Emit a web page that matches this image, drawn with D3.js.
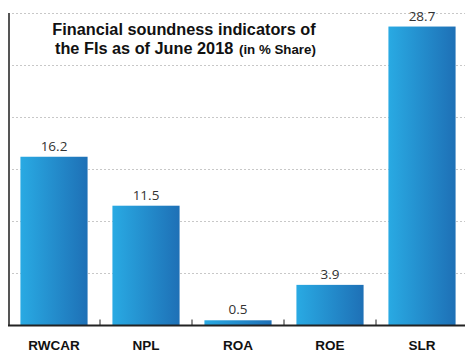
<!DOCTYPE html>
<html><head><meta charset="utf-8">
<script src="https://cdn.jsdelivr.net/npm/d3@7"></script>
<style>html,body{margin:0;padding:0;background:#fff}svg{display:block}</style>
</head><body>
<svg id="c" width="465" height="352"></svg>
<script>
const categories = ["RWCAR", "NPL", "ROA", "ROE", "SLR"];
const values = [16.2, 11.5, 0.5, 3.9, 28.7];
const yTicks = [0, 5, 10, 15, 20, 25, 30];

const svg = d3.select("#c");
const m = {left: 8, right: -3, top: 13, bottom: 26.5};
const W = 465, H = 352;
const x = d3.scaleBand().domain(categories).range([m.left, W - m.right]).paddingInner(0.27).paddingOuter(0.135);
const y = d3.scaleLinear().domain([0, 30]).range([H - m.bottom, m.top]);

const defs = svg.append("defs");
const g = defs.append("linearGradient").attr("id", "bg").attr("x1", "0%").attr("x2", "100%").attr("y1", "0%").attr("y2", "0%");
g.append("stop").attr("offset", "0%").attr("stop-color", "#29aae3");
g.append("stop").attr("offset", "100%").attr("stop-color", "#1e70b6");

// gridlines
svg.append("g").selectAll("line").data(yTicks.filter(d => d > 0)).join("line")
  .attr("x1", m.left).attr("x2", W).attr("y1", d => Math.round(y(d)) + 0.5).attr("y2", d => Math.round(y(d)) + 0.5)
  .attr("stroke", "#c8c8c8").attr("stroke-width", 1).attr("stroke-dasharray", "2,2");

// bars
svg.append("g").selectAll("rect").data(values).join("rect")
  .attr("x", (d, i) => x(categories[i])).attr("width", x.bandwidth())
  .attr("y", d => y(d)).attr("height", d => y(0) - y(d))
  .attr("fill", "url(#bg)");

// value labels
svg.append("g").selectAll("text").data(values).join("text")
  .attr("x", (d, i) => x(categories[i]) + x.bandwidth() / 2)
  .attr("y", d => y(d) - 6)
  .attr("text-anchor", "middle")
  .attr("font-family", "Open Sans, sans-serif").attr("font-size", 13.5).attr("fill", "#333")
  .text(d => d.toFixed(1));

// left axis line
svg.append("line").attr("x1", m.left + 1).attr("x2", m.left + 1).attr("y1", y(30)).attr("y2", y(0))
  .attr("stroke", "#555").attr("stroke-width", 2);

// x axis with inward ticks at band boundaries
const step = x.step();
const bounds = d3.range(1, categories.length).map(i => m.left + i * step);
svg.append("g").selectAll("line").data(bounds).join("line")
  .attr("x1", d => d).attr("x2", d => d).attr("y1", y(0) - 6).attr("y2", y(0))
  .attr("stroke", "#222").attr("stroke-width", 1);
svg.append("line").attr("x1", m.left).attr("x2", W).attr("y1", y(0)).attr("y2", y(0))
  .attr("stroke", "#222").attr("stroke-width", 2);

// category labels
svg.append("g").selectAll("text").data(categories).join("text")
  .attr("x", d => x(d) + x.bandwidth() / 2).attr("y", 350)
  .attr("text-anchor", "middle")
  .attr("font-family", "Liberation Sans, Arial, sans-serif").attr("font-weight", "bold").attr("font-size", 13.5).attr("fill", "#111")
  .text(d => d);

// title
const ff = "Liberation Sans, Arial, sans-serif";
svg.append("text").attr("x", 184).attr("y", 35).attr("text-anchor", "middle").attr("font-family", ff)
  .attr("font-weight", "bold").attr("font-size", 16.3).attr("fill", "#111").text("Financial soundness indicators of");
svg.append("text").attr("x", 55).attr("y", 54).attr("font-family", ff)
  .attr("font-weight", "bold").attr("font-size", 16.3).attr("fill", "#111").text("the FIs as of June 2018");
svg.append("text").attr("x", 239).attr("y", 54).attr("font-family", ff)
  .attr("font-weight", "bold").attr("font-size", 13.3).attr("fill", "#111").text("(in % Share)");
</script>
</body></html>
